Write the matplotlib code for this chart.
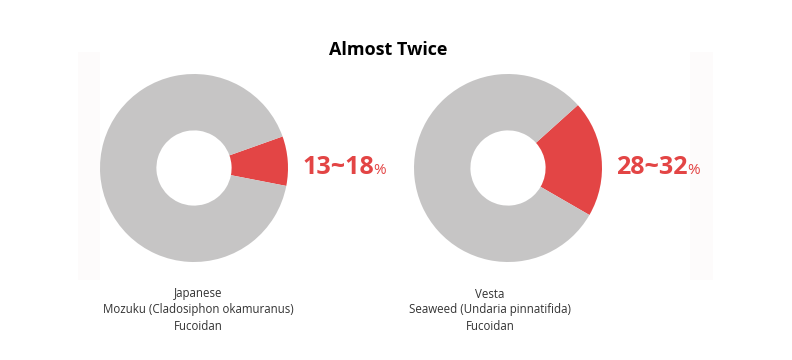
import matplotlib
matplotlib.use("Agg")
import matplotlib.pyplot as plt
from matplotlib.patches import Rectangle

# ---- data ----
title = "Almost Twice"
products = ["Japanese\nMozuku (Cladosiphon okamuranus)\nFucoidan",
            "Vesta\nSeaweed (Undaria pinnatifida)\nFucoidan"]
value_labels = ["13~18", "28~32"]
red_share = [8.5, 20.0]          # visible share of the red wedge (%)

RED = "#e34545"
GRAY = "#c6c5c5"
W, H = 792, 360
plt.rcParams['font.family'] = ['Open Sans', 'DejaVu Sans']

fig = plt.figure(figsize=(W / 100, H / 100), dpi=100)
fig.patch.set_facecolor("white")

# faint background strips
bg = fig.add_axes([0, 0, 1, 1])
bg.set_xlim(0, W); bg.set_ylim(H, 0); bg.axis("off")
bg.add_patch(Rectangle((78, 52), 22, 228, color="#fdfbfb", lw=0))
bg.add_patch(Rectangle((690, 52), 23, 228, color="#fdfbfb", lw=0))

centers = [(194, 168), (508, 168)]
starts = [-11, -30]
R = 94
label_x = [302, 616]
text_cx = [198, 490]

for i in range(2):
    cx, cy = centers[i]
    ax = fig.add_axes([(cx - R) / W, (H - cy - R) / H, 2 * R / W, 2 * R / H])
    ax.pie([red_share[i], 100 - red_share[i]], colors=[RED, GRAY],
           startangle=starts[i], counterclock=True, radius=1,
           wedgeprops=dict(width=0.6, linewidth=0))
    ax.set_xlim(-1, 1); ax.set_ylim(-1, 1)
    ax.set_aspect("equal"); ax.axis("off")

    t = bg.text(label_x[i], 168, value_labels[i], color=RED, fontsize=18,
                fontweight="bold", ha="left", va="center")
    fig.canvas.draw()
    bb = t.get_window_extent()
    x_end = bb.x1
    fig.text(x_end / W, (H - 170) / H, "%", color=RED, fontsize=11,
             ha="left", va="center")

    bg.text(text_cx[i], 310, products[i], color="#333333", fontsize=8.3,
            ha="center", va="center", linespacing=1.3)

bg.text(388, 50, title, fontsize=13, fontweight="bold", ha="center",
        va="center", color="black")

fig.savefig("out.png", dpi=100, facecolor="white")
